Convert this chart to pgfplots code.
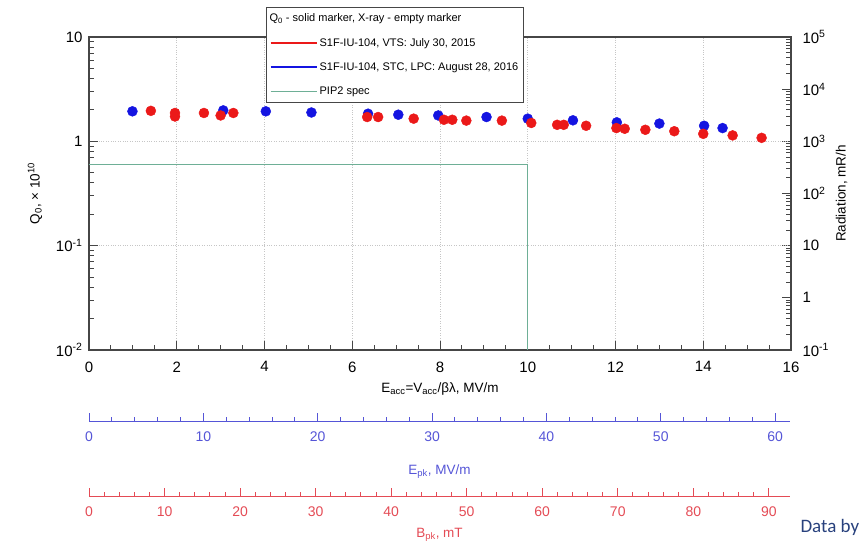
\documentclass[border=0pt]{standalone}
\usepackage{fontspec}
\setmainfont{Liberation Sans}
\newfontfamily\calibri{Carlito}
\usepackage{pgfplots}
\pgfplotsset{compat=1.18}

\definecolor{dotred}{RGB}{235,25,25}
\definecolor{dotblue}{RGB}{20,20,225}
\definecolor{specgreen}{RGB}{110,175,150}
\definecolor{epkblue}{RGB}{85,85,215}
\definecolor{bpkred}{RGB}{228,75,85}
\definecolor{axgray}{RGB}{70,70,70}
\definecolor{databy}{RGB}{40,65,125}

\pgfplotsset{
  /pgf/number format/assume math mode=true,
  every axis/.append style={scale only axis, font=\fontsize{13.5}{15}\selectfont},
}

\begin{document}
\begin{tikzpicture}
\useasboundingbox (-89pt,-195pt) rectangle (778pt,350pt);

% right axis: radiation (no data shown)
\begin{axis}[
  width=702pt, height=313pt,
  xmin=0, xmax=16, ymode=log, ymin=0.1, ymax=1e5,
  axis x line=none, axis y line*=right,
  ytick pos=right, tick align=inside,
  axis line style={axgray, line width=1.1pt},
  tick style={axgray, line width=0.9pt},
  major tick length=9pt, minor tick length=5pt,
  ytick={0.1,1,10,100,1000,10000,100000},
  yticklabels={10\textsuperscript{-1},1,10,10\textsuperscript{2},10\textsuperscript{3},10\textsuperscript{4},10\textsuperscript{5}},
  yticklabel style={font=\fontsize{15}{17}\selectfont, xshift=8pt},
  ylabel={Radiation, mR/h},
  ylabel style={at={(axis description cs:1.072,0.5)}, anchor=center},
]
\addplot[draw=none, forget plot] coordinates {(0,1)};
\end{axis}

% main axis: Q0
\begin{axis}[
  width=702pt, height=313pt,
  xmin=0, xmax=16, ymode=log, ymin=0.01, ymax=10,
  xtick={0,2,...,16}, minor x tick num=3,
  ytick={0.01,0.1,1,10},
  yticklabels={10\textsuperscript{-2},10\textsuperscript{-1},1,10},
  xtick pos=bottom, ytick pos=left, tick align=inside,
  axis line style={axgray, line width=1.1pt},
  tick style={axgray, line width=0.9pt},
  major tick length=9pt, minor tick length=5pt,
  tick label style={font=\fontsize{15}{17}\selectfont},
  xticklabel style={yshift=-8pt},
  yticklabel style={xshift=-3pt},
  grid=major, major grid style={gray!45, dotted, line width=0.6pt},
  xlabel={E\textsubscript{acc}=V\textsubscript{acc}/βλ, MV/m},
  xlabel style={at={(axis description cs:0.5,-0.125)}, anchor=center},
  ylabel={Q\textsubscript{0}, × 10\textsuperscript{10}},
  ylabel style={at={(axis description cs:-0.077,0.5)}, anchor=center},
  legend cell align=left,
  legend image code/.code={\draw[#1] (0pt,0pt) -- (46pt,0pt);},
  legend style={at={(axis description cs:0.252,1.095)}, anchor=north west,
    font=\fontsize{11}{12.5}\selectfont, draw=axgray, line width=1pt,
    row sep=11pt, inner xsep=3pt, inner ysep=4pt, fill=white},
]
\addlegendimage{empty legend}
\addlegendentry{\hspace*{-50pt}Q\textsubscript{0} - solid marker, X-ray - empty marker}
\addlegendimage{dotred, line width=2.2pt}
\addlegendentry{S1F-IU-104, VTS: July 30, 2015}
\addlegendimage{dotblue, line width=2.2pt}
\addlegendentry{S1F-IU-104, STC, LPC: August 28, 2016}
\addlegendimage{specgreen, line width=1.6pt}
\addlegendentry{PIP2 spec}

\addplot[specgreen, line width=1.2pt, forget plot] coordinates {
  (0,0.6) (10,0.6) (10,0.01)
};
\addplot[only marks, mark=*, mark size=5pt, color=dotblue, forget plot] coordinates {
  (0.99,1.94) (3.06,1.98) (4.03,1.94) (5.07,1.89) (6.36,1.84) (7.05,1.80)
  (7.96,1.77) (9.06,1.71) (10.0,1.65) (11.03,1.59) (12.03,1.52) (13.0,1.48)
  (14.02,1.41) (14.44,1.34)
};
\addplot[only marks, mark=*, mark size=5pt, color=dotred, forget plot] coordinates {
  (1.41,1.96) (1.96,1.87) (1.96,1.73) (2.62,1.87) (3.0,1.77) (3.29,1.87)
  (6.34,1.71) (6.59,1.71) (7.40,1.65) (8.09,1.61) (8.28,1.61) (8.60,1.58)
  (9.41,1.58) (10.08,1.50) (10.67,1.44) (10.82,1.44) (11.33,1.41) (12.02,1.34)
  (12.21,1.32) (12.68,1.29) (13.34,1.25) (14.0,1.18) (14.67,1.14) (15.33,1.08)
};
\end{axis}

% Epk scale
\begin{axis}[
  at={(0pt,-72pt)}, anchor=south west,
  width=701pt, height=1pt,
  xmin=0, xmax=61.3, ymin=0, ymax=1,
  axis x line*=bottom, axis y line=none,
  xtick={0,10,...,60}, minor x tick num=4,
  xtick align=inside,
  major tick length=9pt, minor tick length=5pt,
  axis line style={epkblue, line width=1pt, -},
  tick style={epkblue, line width=0.9pt},
  xticklabel style={epkblue, font=\fontsize{14}{16}\selectfont, yshift=-6pt},
  xlabel={E\textsubscript{pk}, MV/m},
  xlabel style={epkblue, at={(axis description cs:0.5,0)}, anchor=center, yshift=-50pt},
]
\addplot[draw=none, forget plot] coordinates {(0,0)};
\end{axis}

% Bpk scale
\begin{axis}[
  at={(0pt,-147pt)}, anchor=south west,
  width=701pt, height=1pt,
  xmin=0, xmax=92.8, ymin=0, ymax=1,
  axis x line*=bottom, axis y line=none,
  xtick={0,10,...,90}, minor x tick num=4,
  xtick align=inside,
  major tick length=9pt, minor tick length=5pt,
  axis line style={bpkred, line width=1pt, -},
  tick style={bpkred, line width=0.9pt},
  xticklabel style={bpkred, font=\fontsize{14}{16}\selectfont, yshift=-6pt},
  xlabel={B\textsubscript{pk}, mT},
  xlabel style={bpkred, at={(axis description cs:0.5,0)}, anchor=center, yshift=-38pt},
]
\addplot[draw=none, forget plot] coordinates {(0,0)};
\end{axis}

\node[anchor=base west, text=databy, font=\calibri\fontsize{19}{21}\selectfont] at (708pt,-183pt) {Data by};
\end{tikzpicture}
\end{document}
